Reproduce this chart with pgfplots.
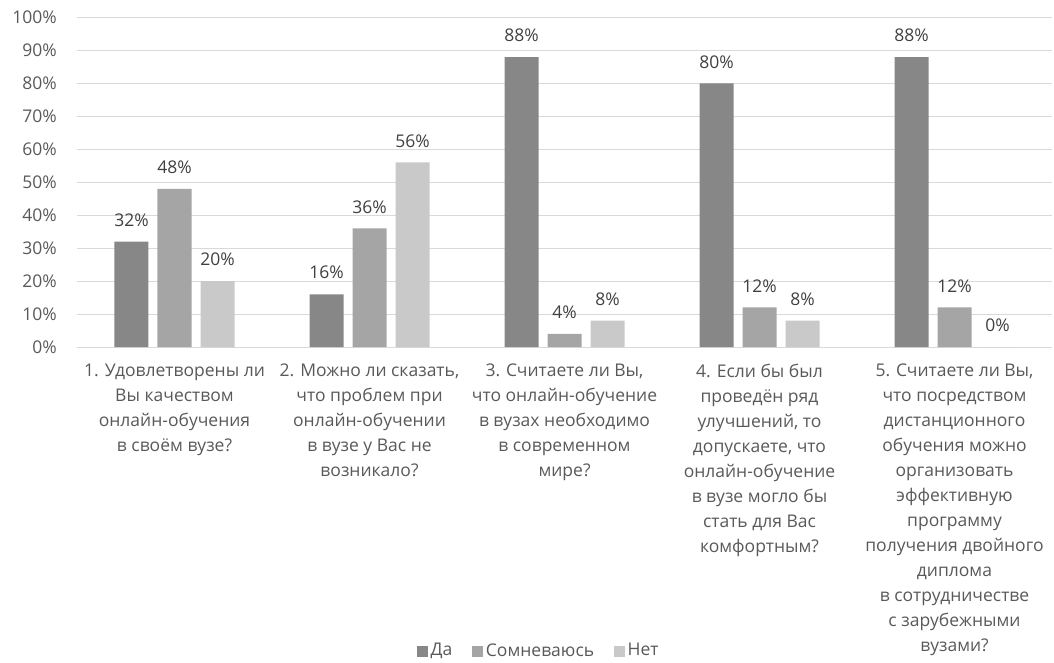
\documentclass[border=0pt]{standalone}
\usepackage{pgfplots}
\pgfplotsset{compat=1.18}
\usepackage{fontspec}
\setmainfont{Open Sans}
\definecolor{cda}{HTML}{878787}
\definecolor{csom}{HTML}{A5A5A5}
\definecolor{cnet}{HTML}{C9C9C9}
\definecolor{gridc}{HTML}{D9D9D9}
\definecolor{txt}{HTML}{595959}
\definecolor{lbl}{HTML}{404040}
\newcommand{\cf}{\fontsize{17.5bp}{25bp}\selectfont}
\begin{document}
\cf
\begin{tikzpicture}
\useasboundingbox (-77bp,-316bp) rectangle (977bp,347bp);
\begin{axis}[
 at={(0,0)}, anchor=south west, scale only axis,
 width=975bp, height=329.5bp,
 ybar=9bp, bar width=34bp,
 xmin=-0.5, xmax=4.5, ymin=0, ymax=100,
 xtick={0,1,2,3,4},
 xticklabels={
  {1. Удовлетворены ли\\Вы качеством\\онлайн-обучения\\в своём вузе?},
  {2. Можно ли сказать,\\что проблем при\\онлайн-обучении\\в вузе у Вас не\\возникало?},
  {3. Считаете ли Вы,\\что онлайн-обучение\\в вузах необходимо\\в современном\\мире?},
  {4. Если бы был\\проведён ряд\\улучшений, то\\допускаете, что\\онлайн-обучение\\в вузе могло бы\\стать для Вас\\комфортным?},
  {5. Считаете ли Вы,\\что посредством\\дистанционного\\обучения можно\\организовать\\эффективную\\программу\\получения двойного\\диплома\\в сотрудничестве\\с зарубежными\\вузами?}},
 ytick={0,10,...,100},
 yticklabel={\pgfmathprintnumber{\tick}\%},
 /pgf/number format/assume math mode=true,
 axis line style={draw=none},
 major tick length=0pt,
 ymajorgrids, grid style={gridc, line width=1bp},
 tick label style={font=\cf, text=txt},
 yticklabel style={anchor=east, inner sep=0pt, xshift=-20bp},
 xticklabel style={align=center, anchor=north, inner sep=0pt, yshift=-17bp},
 nodes near coords={\pgfmathprintnumber{\pgfplotspointmeta}\%},
 every node near coord/.append style={font=\cf, text=lbl, anchor=south, inner sep=0pt, yshift=15bp},
 legend style={at={(0.474,-0.9226)}, anchor=center, draw=none, fill=none,
   legend columns=-1, font=\cf, text=txt,
   nodes={inner sep=2.5bp},
   /tikz/every even column/.append style={column sep=17.5bp}},
 legend image code/.code={\fill[#1] (0bp,-5.5bp) rectangle (11bp,5.5bp);},
]
\addplot[fill=cda, draw=none] coordinates {(0,32) (1,16) (2,88) (3,80) (4,88)};
\addplot[fill=csom, draw=none] coordinates {(0,48) (1,36) (2,4) (3,12) (4,12)};
\addplot[fill=cnet, draw=none] coordinates {(0,20) (1,56) (2,8) (3,8) (4,0)};
\legend{Да,Сомневаюсь,Нет}
\end{axis}
\end{tikzpicture}
\end{document}
